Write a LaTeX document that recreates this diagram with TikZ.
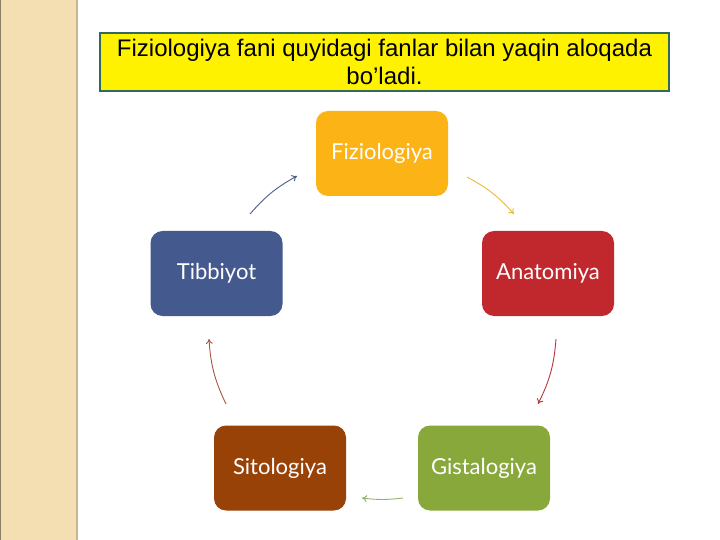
\documentclass[tikz,border=0pt]{standalone}
\usepackage{fontspec}
\setmainfont{Liberation Sans}
\newfontfamily\boxfont{Lato}
\usetikzlibrary{arrows.meta}
\definecolor{stripbg}{HTML}{F4DFB2}
\definecolor{stripline}{HTML}{C9B58E}
\definecolor{titleborder}{HTML}{2F6A5C}
\definecolor{cfiz}{HTML}{FBB315}
\definecolor{cana}{HTML}{C0282E}
\definecolor{cgis}{HTML}{88A83C}
\definecolor{csit}{HTML}{984208}
\definecolor{ctib}{HTML}{44598E}
\definecolor{afiz}{HTML}{E9BA3A}
\definecolor{aana}{HTML}{B8343E}
\definecolor{agis}{HTML}{93B266}
\definecolor{asit}{HTML}{A4553A}
\definecolor{atib}{HTML}{4B5C85}
\tikzset{
  topic/.style={rounded corners=12pt, minimum width=132pt, minimum height=85pt,
    text=white, font=\boxfont\fontsize{22}{26}\selectfont, inner sep=0pt},
  cyc/.style={line width=0.9pt, -{To[length=5pt,width=7pt]}},
}
\begin{document}
\begin{tikzpicture}[x=1pt,y=-1pt]
\useasboundingbox (0,0) rectangle (720,540);
% left strip
\fill[stripbg] (0,0) rectangle (77,540);
\draw[stripline, line width=2pt] (77,0) -- (77,540);
\draw[stripline!70!black, line width=0.8pt] (0.4,0) -- (0.4,540);
% title
\node[draw=titleborder, line width=2.5pt, fill=yellow, minimum width=569pt, minimum height=58pt,
  inner sep=0pt, align=center, font=\fontsize{24}{28}\selectfont] (title) at (384.5,62)
  {Fiziologiya fani quyidagi fanlar bilan yaqin aloqada\\bo’ladi.};
% boxes
\node[topic, fill=cfiz] (fiz) at (382,153.5) {Fiziologiya};
\node[topic, fill=cana] (ana) at (548,273.5) {Anatomiya};
\node[topic, fill=cgis] (gis) at (484,468) {Gistalogiya};
\node[topic, fill=csit] (sit) at (280,468) {Sitologiya};
\node[topic, fill=ctib] (tib) at (216.5,273.5) {Tibbiyot};
% arrow end points on the circle
\coordinate (tibOut) at (250,214);
\coordinate (fizIn) at (297,176);
\coordinate (fizOut) at (467,177);
\coordinate (anaIn) at (514,214);
\coordinate (anaOut) at (556,339);
\coordinate (gisIn) at (538,404);
\coordinate (gisOut) at (403,498);
\coordinate (sitIn) at (362,498);
\coordinate (sitOut) at (226,404);
\coordinate (tibIn) at (209,339);
\draw[cyc, atib] (tibOut) to[bend left=10] (fizIn);
\draw[cyc, afiz] (fizOut) to[bend left=10] (anaIn);
\draw[cyc, aana] (anaOut) to[bend left=11] (gisIn);
\draw[cyc, agis] (gisOut) to[bend left=7] (sitIn);
\draw[cyc, asit] (sitOut) to[bend left=11] (tibIn);
\end{tikzpicture}
\end{document}
